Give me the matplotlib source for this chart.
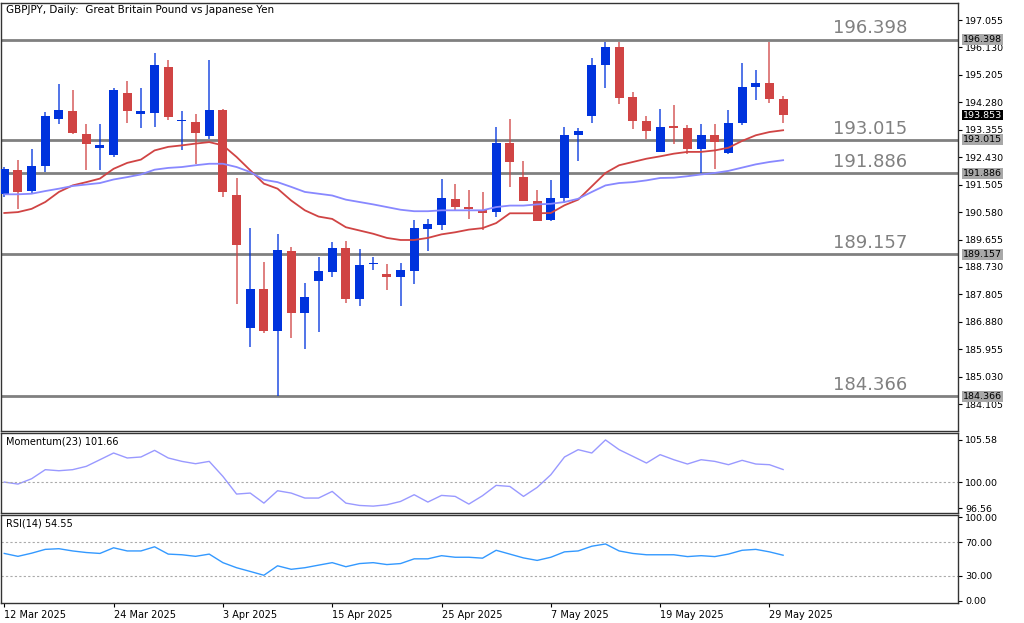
import matplotlib
matplotlib.use("Agg")
import matplotlib.pyplot as plt
import numpy as np

opens = [191.20,192.01,191.29,192.12,193.73,193.98,193.23,192.75,192.49,194.60,193.88,193.92,195.48,193.65,193.61,193.14,194.01,191.17,186.66,187.99,
         186.58,189.28,187.17,188.27,188.55,189.37,187.65,188.83,188.50,188.38,188.61,190.02,190.16,191.01,190.75,190.64,190.58,192.91,191.78,190.95,
         190.32,191.06,193.17,193.81,195.53,196.13,194.46,193.65,192.61,193.47,193.43,192.72,193.17,192.57,193.59,194.80,194.94,194.41]
closes = [192.04,191.26,192.12,193.81,194.01,193.25,192.89,192.83,194.71,193.98,193.98,195.53,193.79,193.68,193.25,194.01,191.26,189.48,187.99,186.58,
          189.31,187.17,187.71,188.58,189.37,187.65,188.81,188.86,188.38,188.63,190.04,190.19,191.06,190.75,190.68,190.55,192.91,192.27,190.95,190.28,
          191.06,193.19,193.32,195.53,196.13,194.44,193.65,193.32,193.45,193.43,192.72,193.17,192.94,193.59,194.80,194.94,194.41,193.853]
highs = [192.10,192.33,192.72,193.96,194.89,194.69,193.54,193.54,194.75,194.99,194.77,195.95,195.70,193.99,193.90,195.70,194.05,191.74,190.04,188.91,
         189.83,189.42,188.19,189.08,189.57,189.62,189.34,189.08,188.83,188.86,190.30,190.35,191.70,191.54,191.33,191.26,193.45,193.73,192.29,191.33,
         191.65,193.45,193.43,195.76,196.32,196.32,194.63,193.81,194.04,194.18,193.51,193.56,193.54,194.02,195.61,195.37,196.32,194.49]
lows = [191.10,190.69,191.20,191.93,193.56,193.20,192.01,191.99,192.44,193.59,193.42,193.45,193.68,192.69,192.21,193.06,191.09,187.48,186.04,186.49,
        184.366,186.34,185.98,186.53,188.38,187.50,187.43,188.63,187.96,187.43,188.16,189.26,189.98,190.63,190.35,189.98,190.41,191.42,190.95,190.28,
        190.28,190.88,192.30,193.59,194.75,194.22,193.39,193.06,192.61,192.89,192.53,191.90,192.04,192.53,193.51,194.35,194.26,193.58]
ma_fast = [190.55,190.58,190.69,190.92,191.26,191.48,191.59,191.71,192.04,192.24,192.35,192.66,192.78,192.83,192.89,192.94,192.83,192.44,191.99,191.54,
           191.37,190.97,190.64,190.43,190.35,190.07,189.96,189.85,189.71,189.64,189.64,189.71,189.83,189.90,189.99,190.04,190.21,190.54,190.54,190.54,
           190.55,190.81,191.00,191.45,191.90,192.16,192.27,192.38,192.46,192.55,192.61,192.61,192.66,192.75,192.98,193.17,193.28,193.34]
ma_slow = [191.18,191.18,191.20,191.29,191.37,191.46,191.51,191.56,191.68,191.76,191.85,192.01,192.07,192.10,192.16,192.21,192.21,192.10,191.93,191.67,
           191.59,191.43,191.26,191.20,191.14,191.00,190.92,190.84,190.75,190.66,190.61,190.61,190.64,190.64,190.64,190.64,190.75,190.80,190.80,190.84,
           190.86,190.92,191.03,191.26,191.48,191.56,191.59,191.65,191.73,191.74,191.79,191.85,191.90,191.97,192.08,192.19,192.27,192.33]
momentum = [100.00,99.73,100.44,101.64,101.50,101.64,102.08,102.96,103.85,103.19,103.32,104.20,103.19,102.74,102.43,102.74,100.75,98.41,98.54,97.21,
            98.85,98.54,97.88,97.88,98.76,97.21,96.90,96.81,96.99,97.43,98.32,97.35,98.23,98.10,97.08,98.19,99.56,99.42,98.10,99.29,
            100.97,103.32,104.29,103.85,105.58,104.29,103.41,102.52,103.63,102.96,102.39,102.96,102.74,102.30,102.88,102.39,102.30,101.66]
rsi = [56.7,53.2,57.0,61.6,62.4,59.7,57.8,56.7,63.5,59.7,59.7,64.7,55.9,55.1,53.2,55.9,45.6,39.5,35.0,30.4,
       41.8,37.6,39.5,42.6,45.6,40.7,44.5,45.6,43.3,44.5,50.2,50.2,54.0,52.1,52.1,51.0,60.5,55.9,51.3,48.3,
       52.1,58.6,59.7,65.4,68.1,59.7,56.7,55.1,55.1,55.1,52.9,54.0,52.9,55.9,60.5,61.6,58.6,54.55]
levels = [196.398, 193.015, 191.886, 189.157, 184.366]
price_ticks = [197.055,196.130,195.205,194.280,193.355,192.430,191.505,190.580,189.655,188.730,187.805,186.880,185.955,185.030,184.105]
date_idx = [0, 8, 16, 24, 32, 40, 48, 56]
date_labels = ["12 Mar 2025","24 Mar 2025","3 Apr 2025","15 Apr 2025","25 Apr 2025","7 May 2025","19 May 2025","29 May 2025"]

W, H = 1024, 623
fig = plt.figure(figsize=(W/100, H/100), dpi=100)
def px_axes(l, t, r, b):
    return fig.add_axes([l/W, 1-b/H, (r-l)/W, (b-t)/H])

BLUE = "#0033dd"; RED = "#d04444"; GRAY = "#808080"
xl = (-0.24, 69.8)
x = np.arange(len(opens))

ax = px_axes(1, 3, 958, 431)
for i in x:
    o, c = opens[i], closes[i]
    col = BLUE if c >= o else RED
    ax.vlines(i, lows[i], highs[i], color=col, lw=1.2, alpha=0.8, zorder=3)
    b = max(abs(c-o), 0.04)
    ax.bar(i, b, bottom=min(o, c), width=0.66, color=col, zorder=4, linewidth=0)
ax.plot(x, ma_fast, color="#d04444", lw=1.3, zorder=5)
ax.plot(x, ma_slow, color="#8888ff", lw=1.3, zorder=5)
for lv in levels:
    ax.axhline(lv, color=GRAY, lw=2, zorder=2)
    ax.text(906/957, lv + 0.08, f"{lv:.3f}", transform=ax.get_yaxis_transform(), fontsize=13, color=GRAY,
            ha="right", va="bottom")
ax.set_xlim(*xl); ax.set_ylim(183.20, 197.63)
ax.yaxis.tick_right()
ax.set_yticks(price_ticks)
ax.set_yticklabels([f"{t:.3f}" for t in price_ticks], fontsize=6.8)
ax.tick_params(axis="y", length=3, pad=2)
ax.set_xticks([])
for lv in levels:
    ax.text(1.005, lv, f"{lv:.3f}", transform=ax.get_yaxis_transform(), fontsize=6.8, color="black",
            ha="left", va="center", bbox=dict(boxstyle="square,pad=0.1", fc="#a8a8a8", ec="none"), clip_on=False)
ax.text(1.005, closes[-1], f"{closes[-1]:.3f}", transform=ax.get_yaxis_transform(), fontsize=6.8, color="white",
        ha="left", va="center", bbox=dict(boxstyle="square,pad=0.1", fc="black", ec="none"), clip_on=False)
ax.text(0.005, 0.995, "GBPJPY, Daily:  Great Britain Pound vs Japanese Yen", transform=ax.transAxes,
        fontsize=7.5, va="top", ha="left")

am = px_axes(1, 433, 958, 513)
am.plot(x, momentum, color="#9999ff", lw=1)
am.axhline(100, color="#aaaaaa", lw=0.8, ls=(0, (2, 2)))
am.set_xlim(*xl); am.set_ylim(95.9, 106.5)
am.yaxis.tick_right(); am.set_yticks([96.56, 100.0, 105.58])
am.set_yticklabels(["96.56", "100.00", "105.58"], fontsize=6.8)
am.tick_params(axis="y", length=3, pad=2); am.set_xticks([])
am.text(0.005, 0.96, "Momentum(23) 101.66", transform=am.transAxes, fontsize=7, va="top")

ar = px_axes(1, 515, 958, 603)
ar.plot(x, rsi, color="#3399ff", lw=1)
for lv in (70, 30):
    ar.axhline(lv, color="#aaaaaa", lw=0.8, ls=(0, (2, 2)))
ar.set_xlim(*xl); ar.set_ylim(-3, 103)
ar.yaxis.tick_right(); ar.set_yticks([0, 30, 70, 100])
ar.set_yticklabels(["0.00", "30.00", "70.00", "100.00"], fontsize=6.8)
ar.tick_params(axis="y", length=3, pad=2)
ar.text(0.005, 0.96, "RSI(14) 54.55", transform=ar.transAxes, fontsize=7, va="top")
ar.set_xticks(date_idx)
ar.set_xticklabels(date_labels, fontsize=7, ha="left")
ar.tick_params(axis="x", length=3, pad=2)

for a in (ax, am, ar):
    for s in a.spines.values():
        s.set_color("#333333"); s.set_linewidth(1)

fig.savefig("out.png", dpi=100)
